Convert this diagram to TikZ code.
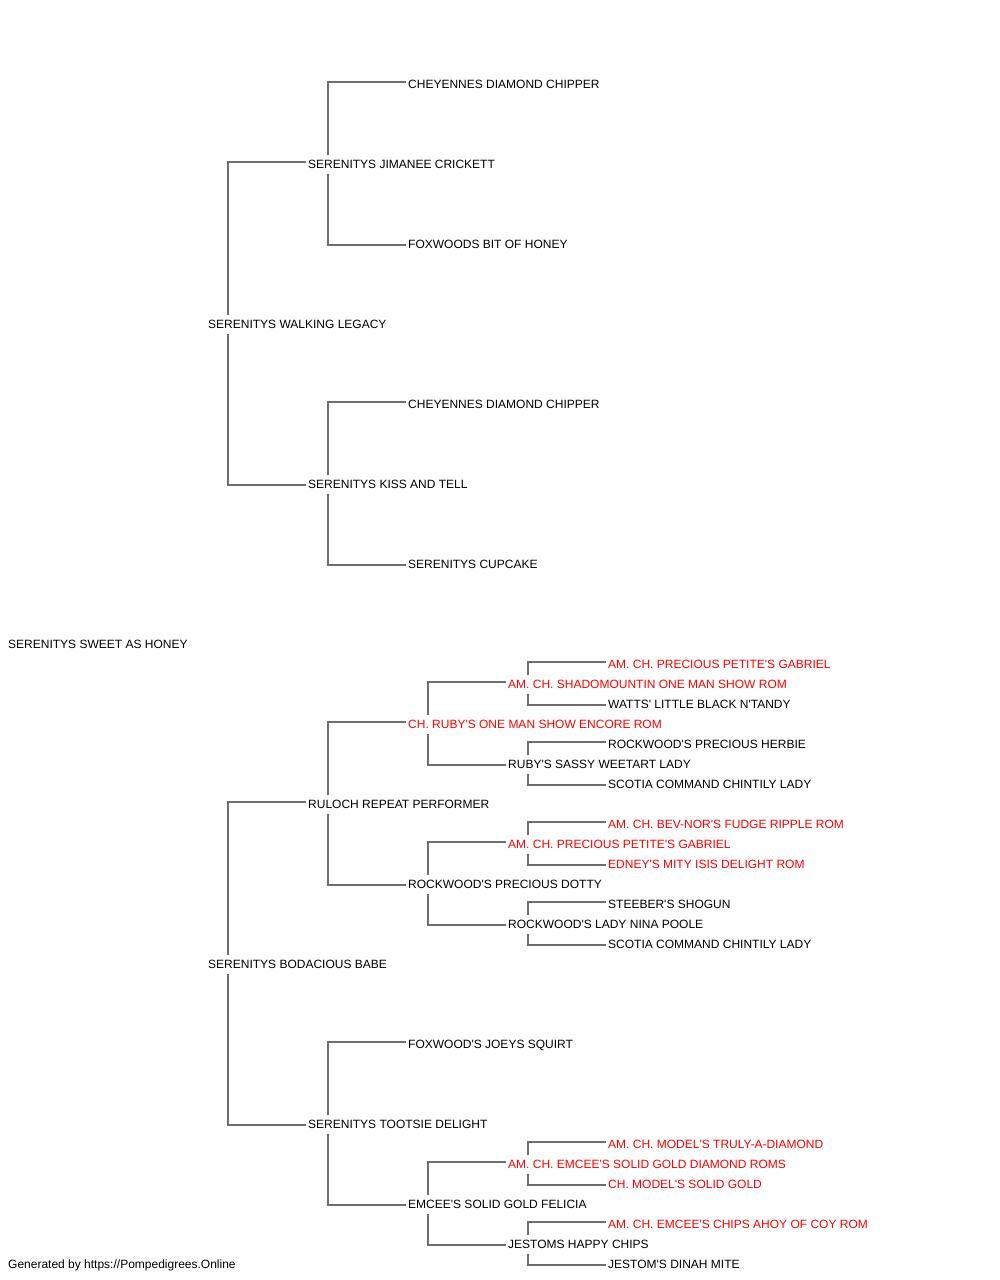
\documentclass[tikz,border=0pt]{standalone}
\usepackage{fontspec}
\newfontfamily\pedfont{Liberation Sans}
\definecolor{linegray}{HTML}{6E6E6E}
\definecolor{champred}{HTML}{FF0000}
\newcommand\pedup[2]{\draw[link] ([xshift=20pt]#1.north west) |- ([xshift=-2pt,yshift=2.5pt]#2.west);}
\newcommand\peddown[2]{\draw[link] ([xshift=20pt]#1.south west) |- ([xshift=-2pt,yshift=-0.5pt]#2.west);}
\begin{document}
\begin{tikzpicture}[x=1pt,y=-1pt,
  lbl/.style={anchor=base west, inner sep=0pt, text height=13pt, text depth=6pt, font=\pedfont\fontsize{12}{14}\selectfont},
  champ/.style={lbl, text=champred},
  link/.style={draw=linegray, line width=1.3pt}]
\useasboundingbox[fill=white] (0,0) rectangle (1000,1280);
% generation 0
\node[lbl] (root) at (8,648) {SERENITYS SWEET AS HONEY};
% generation 1
\node[lbl] (a) at (208,328) {SERENITYS WALKING LEGACY};
\node[lbl] (b) at (208,968) {SERENITYS BODACIOUS BABE};
% generation 2
\node[lbl] (aa) at (308,168) {SERENITYS JIMANEE CRICKETT};
\node[lbl] (ab) at (308,488) {SERENITYS KISS AND TELL};
\node[lbl] (ba) at (308,808) {RULOCH REPEAT PERFORMER};
\node[lbl] (bb) at (308,1128) {SERENITYS TOOTSIE DELIGHT};
% generation 3
\node[lbl] (aaa) at (408,88) {CHEYENNES DIAMOND CHIPPER};
\node[lbl] (aab) at (408,248) {FOXWOODS BIT OF HONEY};
\node[lbl] (aba) at (408,408) {CHEYENNES DIAMOND CHIPPER};
\node[lbl] (abb) at (408,568) {SERENITYS CUPCAKE};
\node[champ] (baa) at (408,728) {CH. RUBY'S ONE MAN SHOW ENCORE ROM};
\node[lbl] (bab) at (408,888) {ROCKWOOD'S PRECIOUS DOTTY};
\node[lbl] (bba) at (408,1048) {FOXWOOD'S JOEYS SQUIRT};
\node[lbl] (bbb) at (408,1208) {EMCEE'S SOLID GOLD FELICIA};
% generation 4
\node[champ] (baaa) at (508,688) {AM. CH. SHADOMOUNTIN ONE MAN SHOW ROM};
\node[lbl] (baab) at (508,768) {RUBY'S SASSY WEETART LADY};
\node[champ] (baba) at (508,848) {AM. CH. PRECIOUS PETITE'S GABRIEL};
\node[lbl] (babb) at (508,928) {ROCKWOOD'S LADY NINA POOLE};
\node[champ] (bbba) at (508,1168) {AM. CH. EMCEE'S SOLID GOLD DIAMOND ROMS};
\node[lbl] (bbbb) at (508,1248) {JESTOMS HAPPY CHIPS};
% generation 5
\node[champ] (baaaa) at (608,668) {AM. CH. PRECIOUS PETITE'S GABRIEL};
\node[lbl] (baaab) at (608,708) {WATTS' LITTLE BLACK N'TANDY};
\node[lbl] (baaba) at (608,748) {ROCKWOOD'S PRECIOUS HERBIE};
\node[lbl] (baabb) at (608,788) {SCOTIA COMMAND CHINTILY LADY};
\node[champ] (babaa) at (608,828) {AM. CH. BEV-NOR'S FUDGE RIPPLE ROM};
\node[champ] (babab) at (608,868) {EDNEY'S MITY ISIS DELIGHT ROM};
\node[lbl] (babba) at (608,908) {STEEBER'S SHOGUN};
\node[lbl] (babbb) at (608,948) {SCOTIA COMMAND CHINTILY LADY};
\node[champ] (bbbaa) at (608,1148) {AM. CH. MODEL'S TRULY-A-DIAMOND};
\node[champ] (bbbab) at (608,1188) {CH. MODEL'S SOLID GOLD};
\node[champ] (bbbba) at (608,1228) {AM. CH. EMCEE'S CHIPS AHOY OF COY ROM};
\node[lbl] (bbbbb) at (608,1268) {JESTOM'S DINAH MITE};
% footer
\node[lbl] (footer) at (8,1268) {Generated by https://Pompedigrees.Online};
% connectors
\pedup{a}{aa} \peddown{a}{ab}
\pedup{b}{ba} \peddown{b}{bb}
\pedup{aa}{aaa} \peddown{aa}{aab}
\pedup{ab}{aba} \peddown{ab}{abb}
\pedup{ba}{baa} \peddown{ba}{bab}
\pedup{bb}{bba} \peddown{bb}{bbb}
\pedup{baa}{baaa} \peddown{baa}{baab}
\pedup{bab}{baba} \peddown{bab}{babb}
\pedup{bbb}{bbba} \peddown{bbb}{bbbb}
\pedup{baaa}{baaaa} \peddown{baaa}{baaab}
\pedup{baab}{baaba} \peddown{baab}{baabb}
\pedup{baba}{babaa} \peddown{baba}{babab}
\pedup{babb}{babba} \peddown{babb}{babbb}
\pedup{bbba}{bbbaa} \peddown{bbba}{bbbab}
\pedup{bbbb}{bbbba} \peddown{bbbb}{bbbbb}
\end{tikzpicture}
\end{document}
